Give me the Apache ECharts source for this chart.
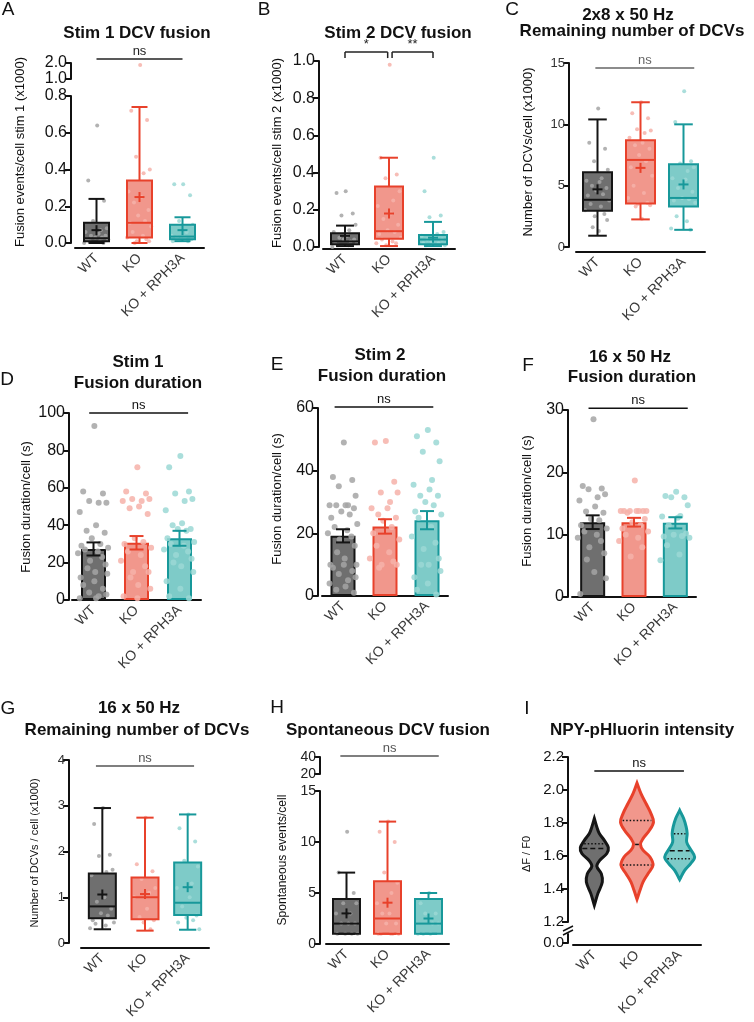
<!DOCTYPE html>
<html>
<head>
<meta charset="utf-8">
<title>DCV fusion panels</title>
<script src="https://cdn.jsdelivr.net/npm/echarts@6.0.0/dist/echarts.min.js"></script>
<style>
  html, body { margin: 0; padding: 0; background: #fff; }
  #chart { width: 754px; height: 1022px; }
</style>
</head>
<body>
<div id="chart"></div>
<script>
const groups = ["WT", "KO", "KO + RPH3A"];

// A - Stim 1 DCV fusion (x1000); box = [min, q1, median, q3, max]
const stim1Box = [
  [0.0, 0.01, 0.026, 0.11, 0.24],
  [0.0, 0.03, 0.11, 0.34, 0.74],
  [0.01, 0.02, 0.035, 0.10, 0.14]
];
const stim1Mean = [0.07, 0.25, 0.07];
const stim1Pts = [
  [0.64, 0.34, 0.23, 0.12, 0.08, 0.07, 0.06, 0.05, 0.04, 0.04, 0.03, 0.03, 0.02, 0.02, 0.01, 0.01, 0.0, 0.0],
  [1.88, 0.72, 0.67, 0.47, 0.40, 0.38, 0.28, 0.25, 0.22, 0.18, 0.15, 0.12, 0.11, 0.09, 0.06, 0.04, 0.03, 0.02, 0.01, 0.01, 0.0],
  [0.32, 0.32, 0.26, 0.12, 0.10, 0.06, 0.04, 0.03, 0.03, 0.02, 0.02, 0.01, 0.01]
];

// B - Stim 2 DCV fusion (x1000)
const stim2Box = [
  [0.005, 0.015, 0.03, 0.074, 0.115],
  [0.005, 0.045, 0.085, 0.325, 0.48],
  [0.005, 0.015, 0.04, 0.065, 0.135]
];
const stim2Mean = [0.06, 0.18, 0.05];
const stim2Pts = [
  [0.30, 0.29, 0.18, 0.17, 0.12, 0.09, 0.08, 0.06, 0.05, 0.04, 0.04, 0.03, 0.02, 0.02, 0.01, 0.01, 0.0],
  [0.98, 0.48, 0.39, 0.37, 0.30, 0.25, 0.22, 0.18, 0.15, 0.12, 0.09, 0.08, 0.07, 0.05, 0.04, 0.03, 0.02, 0.02, 0.01],
  [0.48, 0.30, 0.17, 0.16, 0.08, 0.07, 0.06, 0.05, 0.04, 0.04, 0.03, 0.02, 0.02, 0.01, 0.01]
];

// C - 2x8 x 50 Hz remaining DCVs (x1000)
const remain2x8Box = [
  [0.92, 2.96, 3.85, 6.1, 10.4],
  [2.25, 3.55, 7.1, 8.7, 11.8],
  [1.4, 3.3, 4.0, 6.75, 10.0]
];
const remain2x8Mean = [4.7, 6.45, 5.1];
const remain2x8Pts = [
  [11.3, 8.5, 8.0, 7.0, 6.3, 5.6, 5.4, 5.3, 5.0, 4.8, 4.6, 4.3, 4.2, 3.8, 3.5, 3.3, 3.0, 2.7, 2.5, 2.2, 1.6, 1.3],
  [11.8, 10.9, 10.5, 9.6, 9.5, 9.3, 8.9, 8.5, 8.3, 8.0, 7.5, 7.0, 6.5, 5.8, 5.0, 4.4, 4.0, 3.6, 3.5, 3.4, 3.3, 2.3],
  [12.7, 10.2, 7.0, 6.8, 6.5, 6.2, 5.6, 5.5, 4.8, 4.5, 4.0, 3.9, 3.8, 3.6, 2.5, 2.1, 1.5, 1.4]
];

// D - Stim 1 fusion duration (s)
const dur1Mean = [27.3, 30.6, 33.0];
const dur1Sem = [3.5, 3.6, 4.0];
const dur1Pts = [
  [93, 58, 57, 53, 52, 52, 47, 40, 37, 36, 33, 30, 29, 28, 27, 26, 25, 23, 21, 19, 17, 15, 14, 12, 10, 8, 6, 4, 3, 2, 1, 1],
  [71, 58, 57, 54, 54, 53, 53, 50, 49, 46, 33, 31, 30, 28, 26, 24, 21, 18, 15, 15, 12, 8, 6, 2, 1],
  [77, 71, 58, 57, 54, 53, 48, 41, 40, 38, 38, 37, 33, 31, 30, 29, 27, 26, 24, 22, 20, 18, 15, 10, 6, 2, 1]
];

// E - Stim 2 fusion duration (s)
const dur2Mean = [19.2, 22.2, 24.2];
const dur2Sem = [2.1, 2.3, 2.9];
const dur2Pts = [
  [49, 38, 37, 35, 32, 29, 29, 29, 29, 28, 27, 26, 25, 23, 22, 21, 20, 19, 18, 16, 14, 12, 10, 10, 10, 9, 8, 7, 6, 5, 4, 3, 2, 1],
  [49.5, 49, 36.5, 33, 33, 30, 28, 28, 26, 25, 24, 22, 20, 18, 16, 14, 12, 11, 10, 10, 9],
  [53, 51, 49, 46, 43, 37, 35.5, 34, 32, 32, 30, 29, 27, 26, 25, 22, 19, 17, 15, 12, 10, 10, 8, 6, 4, 2, 0.5]
];

// F - 16 x 50 Hz fusion duration (s)
const dur16Mean = [12.0, 12.0, 11.9];
const dur16Sem = [1.1, 0.7, 0.9];
const dur16Pts = [
  [28.5, 17.8, 17.4, 17.3, 16.5, 16.0, 15.5, 14.5, 13.7, 13.5, 12.5, 12.3, 11.5, 11, 10.5, 10, 9.5, 9, 8, 7, 6, 4, 3, 0.5],
  [18.7, 13.8, 13.8, 13.8, 13.8, 13.8, 13.8, 13.8, 13.5, 12.5, 12, 11.5, 11, 10.5, 10, 9.5, 9, 8, 6.5],
  [16.9, 16.2, 16.0, 16.0, 14.7, 13.0, 12.9, 12.7, 11.5, 10.2, 10, 9.8, 9.7, 9.5, 8.3, 6.8, 5.9]
];

// G - 16 x 50 Hz remaining DCVs (x1000)
const remain16Box = [
  [0.3, 0.54, 0.8, 1.52, 2.95],
  [0.27, 0.52, 1.0, 1.43, 2.74],
  [0.29, 0.61, 0.88, 1.76, 2.81]
];
const remain16Mean = [1.06, 1.07, 1.22];
const remain16Pts = [
  [2.95, 2.6, 1.93, 1.9, 1.6, 1.55, 1.48, 1.0, 0.9, 0.75, 0.65, 0.6, 0.5, 0.45, 0.42, 0.38, 0.32],
  [2.74, 1.72, 1.57, 1.4, 1.2, 1.1, 1.0, 0.75, 0.57, 0.5, 0.45, 0.3],
  [2.81, 2.51, 2.22, 1.8, 1.67, 1.3, 1.2, 1.0, 0.8, 0.6, 0.55, 0.5, 0.45, 0.3]
];

// H - Spontaneous events per cell
const spontBox = [
  [1, 1, 2, 4.4, 7],
  [1, 1, 2.5, 6.15, 12],
  [1, 1, 2, 4.4, 5]
];
const spontMean = [3.0, 4.05, 2.5];
const spontPts = [
  [11, 7, 5, 4, 4, 3, 3, 2, 2, 2, 1, 1, 1, 1],
  [12, 11, 10, 7, 6, 5, 4, 3, 3, 2, 2, 1, 1, 1, 1, 1],
  [5, 4, 3, 3, 2, 2, 1, 1, 1]
];

// I - NPY-pHluorin dF/F0 violins: [value, relative density]
const violinWT = [[1.301, 0], [1.372, 3.5], [1.442, 8], [1.493, 7], [1.538, 2.5], [1.574, 5.5], [1.615, 12.5], [1.651, 14], [1.695, 10], [1.736, 5], [1.776, 2.5], [1.827, 0]];
const violinKO = [[1.338, 0], [1.392, 3], [1.442, 6], [1.493, 11], [1.544, 16], [1.594, 13], [1.635, 6], [1.671, 3.5], [1.705, 6], [1.756, 12.5], [1.806, 16.5], [1.857, 14], [1.918, 9], [1.978, 4], [2.042, 0]];
const violinRescue = [[1.457, 0], [1.513, 5], [1.554, 11], [1.594, 15], [1.639, 11], [1.685, 7], [1.736, 7.5], [1.776, 6.5], [1.827, 4], [1.877, 0]];
// [q1, median, q3]; WT q1 is hidden in the dark fill of the reference
const violinQuartiles = [[null, 1.645, 1.675], [1.545, 1.67, 1.815], [1.584, 1.632, 1.735]];

const FONT = "'Liberation Sans', Arial, Helvetica, sans-serif";
const stroke = ["#151515", "#e8412b", "#17989a"];
const fill = ["#6f6f6f", "#f1978c", "#7ecbc8"];
const dot = ["#a5a5a5", "#f6b1a9", "#9bd8d5"];
// horizontal scatter of the dots, in category widths
const jitter = [0.02, -0.24, 0.22, -0.1, 0.3, 0.12, -0.32, 0.06, -0.16, 0.26, -0.04, 0.16, -0.28, 0.34, -0.2, 0.1, -0.36, 0.2, -0.08, 0.28, -0.14, 0.04, 0.32, -0.3];

const option = {
  animation: false,
  backgroundColor: "#fff",
  textStyle: { fontFamily: FONT },
  grid: [],
  xAxis: [],
  yAxis: [],
  series: [],
  graphic: []
};

// one grid = category x axis (ticks/labels) + hidden value x axis (for marks) + y axis
function addGrid(c) {
  const g = option.grid.length;
  option.grid.push({ left: c.left, top: c.top, width: c.width, height: c.height });
  option.xAxis.push({
    type: "category", gridIndex: g, data: groups, show: !!c.showX, offset: c.xOffset || 0,
    axisLine: { onZero: false, lineStyle: { color: "#111", width: 2 } },
    axisTick: { alignWithLabel: true, length: 5, lineStyle: { color: "#111", width: 2 } },
    axisLabel: { rotate: 45, margin: 8, fontSize: 14, color: "#3a3a3a", fontFamily: FONT, interval: 0 },
    splitLine: { show: false }
  });
  option.xAxis.push({ type: "value", gridIndex: g, min: -0.5, max: 2.5, show: false, axisLine: { onZero: false } });
  option.yAxis.push({
    type: "value", gridIndex: g, min: c.min, max: c.max, interval: c.interval, offset: c.yOffset || 0,
    axisLine: { show: true, onZero: false, lineStyle: { color: "#111", width: 2 } },
    axisTick: { show: true, length: 6, lineStyle: { color: "#111", width: 2 } },
    splitLine: { show: false },
    axisLabel: {
      margin: 4, fontSize: c.fontSize || 16, color: c.labelColor || "#111", fontFamily: FONT,
      formatter: c.formatter || ((v) => v.toFixed(c.digits || 0))
    }
  });
  return { cat: 2 * g, val: 2 * g + 1, y: g };
}

function addDots(ax, pts, spread, size, keep) {
  pts.forEach((vals, i) => {
    option.series.push({
      type: "scatter", xAxisIndex: ax.val, yAxisIndex: ax.y, z: 3, silent: true,
      symbolSize: size, itemStyle: { color: dot[i], opacity: 0.85 },
      data: vals.map((v, j) => [i + jitter[j % jitter.length] * spread, v]).filter((p) => !keep || keep(p[1]))
    });
  });
}

function addBoxes(ax, boxes, means, bw) {
  const data = boxes.map((b, i) => [i, b[0], b[1], b[2], b[3], b[4], means[i]]);
  // fill below the dots
  option.series.push({
    type: "custom", xAxisIndex: ax.val, yAxisIndex: ax.y, z: 2, silent: true, clip: false, data: data,
    renderItem(params, api) {
      const x = api.value(0);
      const q1 = api.coord([x, api.value(2)]), q3 = api.coord([x, api.value(4)]);
      return { type: "rect", shape: { x: q1[0] - bw / 2, y: q3[1], width: bw, height: q1[1] - q3[1] },
        style: { fill: fill[params.dataIndex] } };
    }
  });
  // lines and mean cross above the dots
  option.series.push({
    type: "custom", xAxisIndex: ax.val, yAxisIndex: ax.y, z: 4, silent: true, clip: false, data: data,
    renderItem(params, api) {
      const i = params.dataIndex;
      const x = api.value(0);
      const p = (k) => api.coord([x, api.value(k)]);
      const lo = p(1), q1 = p(2), md = p(3), q3 = p(4), hi = p(5), mn = p(6);
      const cx = lo[0], h = bw / 2, cap = bw * 0.32;
      const st = { stroke: stroke[i], lineWidth: 2, fill: null };
      const ln = (x1, y1, x2, y2) => ({ type: "line", shape: { x1, y1, x2, y2 }, style: st });
      return { type: "group", children: [
        { type: "rect", shape: { x: cx - h, y: q3[1], width: bw, height: q1[1] - q3[1] }, style: st },
        ln(cx - h, md[1], cx + h, md[1]),
        ln(cx, q3[1], cx, hi[1]),
        ln(cx, q1[1], cx, lo[1]),
        ln(cx - cap, hi[1], cx + cap, hi[1]),
        ln(cx - cap, lo[1], cx + cap, lo[1]),
        ln(cx - 5, mn[1], cx + 5, mn[1]),
        ln(cx, mn[1] - 5, cx, mn[1] + 5)
      ] };
    }
  });
}

function addBars(ax, means, sems) {
  option.series.push({
    type: "bar", xAxisIndex: ax.cat, yAxisIndex: ax.y, barWidth: 25, z: 2, silent: true,
    data: means.map((v, i) => ({ value: v, itemStyle: { color: fill[i], borderColor: stroke[i], borderWidth: 2 } }))
  });
  option.series.push({
    type: "custom", xAxisIndex: ax.val, yAxisIndex: ax.y, z: 4, silent: true, clip: false,
    data: means.map((m, i) => [i, m - sems[i], m + sems[i]]),
    renderItem(params, api) {
      const lo = api.coord([api.value(0), api.value(1)]), hi = api.coord([api.value(0), api.value(2)]);
      const st = { stroke: stroke[params.dataIndex], lineWidth: 2 };
      const c = lo[0];
      return { type: "group", children: [
        { type: "line", shape: { x1: c, y1: lo[1], x2: c, y2: hi[1] }, style: st },
        { type: "line", shape: { x1: c - 7, y1: lo[1], x2: c + 7, y2: lo[1] }, style: st },
        { type: "line", shape: { x1: c - 7, y1: hi[1], x2: c + 7, y2: hi[1] }, style: st }
      ] };
    }
  });
}

function addViolins(ax, profiles, quartiles, scale) {
  option.series.push({
    type: "custom", xAxisIndex: ax.val, yAxisIndex: ax.y, z: 3, silent: true, clip: false,
    data: profiles.map((p, i) => [i]),
    renderItem(params, api) {
      const i = params.dataIndex;
      const x = api.value(0);
      const prof = profiles[i];
      const right = prof.map((d) => api.coord([x + d[1] * scale, d[0]]));
      const left = prof.slice().reverse().map((d) => api.coord([x - d[1] * scale, d[0]]));
      const half = (v) => {
        for (let k = 1; k < prof.length; k++) {
          if (v <= prof[k][0]) {
            const t = (v - prof[k - 1][0]) / (prof[k][0] - prof[k - 1][0]);
            return prof[k - 1][1] + t * (prof[k][1] - prof[k - 1][1]);
          }
        }
        return 0;
      };
      const kids = [{ type: "polygon", shape: { points: right.concat(left), smooth: 0.35 },
        style: { fill: fill[i], stroke: stroke[i], lineWidth: 3 } }];
      quartiles[i].forEach((q, k) => {
        if (q == null) return;
        const hw = Math.max(half(q) * scale - 0.04, 0);
        const a = api.coord([x - hw, q]), b = api.coord([x + hw, q]);
        kids.push({ type: "line", shape: { x1: a[0], y1: a[1], x2: b[0], y2: b[1] },
          style: { stroke: "#111", lineWidth: 1.5, lineDash: k === 1 ? [5, 3] : [1.5, 2] } });
      });
      return { type: "group", children: kids };
    }
  });
}

// significance annotations: from/to in category positions, at in axis units
function addSig(ax, marks, color) {
  option.series.push({
    type: "custom", xAxisIndex: ax.val, yAxisIndex: ax.y, z: 5, silent: true, clip: false,
    data: marks.map((m) => [m.from, m.to, m.at]),
    renderItem(params, api) {
      const m = marks[params.dataIndex];
      const a = api.coord([api.value(0), api.value(2)]), b = api.coord([api.value(1), api.value(2)]);
      const st = { stroke: color, lineWidth: 1.5 };
      const kids = [{ type: "line", shape: { x1: a[0], y1: a[1], x2: b[0], y2: b[1] }, style: st }];
      if (m.tick) {
        kids.push({ type: "line", shape: { x1: a[0], y1: a[1], x2: a[0], y2: a[1] + m.tick }, style: st });
        kids.push({ type: "line", shape: { x1: b[0], y1: b[1], x2: b[0], y2: b[1] + m.tick }, style: st });
      }
      kids.push({ type: "text", x: (a[0] + b[0]) / 2, y: a[1] - 1,
        style: { text: m.text, font: "13px " + FONT, fill: color, align: "center", verticalAlign: "bottom", textAlign: "center", textVerticalAlign: "bottom" } });
      return { type: "group", children: kids };
    }
  });
}

function text(x, y, str, font, opts) {
  option.graphic.push(Object.assign({
    type: "text", x: x, y: y, silent: true,
    style: { text: str, font: font, fill: "#111", align: "center", verticalAlign: "middle", textAlign: "center", textVerticalAlign: "middle" }
  }, opts || {}));
}
function yName(x, y, str, size) {
  text(x, y, str, size + "px " + FONT, { rotation: Math.PI / 2 });
}
const TITLE = "bold 17px " + FONT;
const LETTER = "19px " + FONT;

// ---------- A ----------
const aLow = addGrid({ left: 75, top: 96, width: 129, height: 147, min: 0, max: 0.8, interval: 0.2, digits: 1, yOffset: 4, xOffset: 5, showX: true });
const aUp = addGrid({ left: 75, top: 63, width: 129, height: 16, min: 1, max: 2, interval: 1, digits: 1, yOffset: 4 });
addBoxes(aLow, stim1Box, stim1Mean, 25);
addDots(aLow, stim1Pts, 0.8, 4, (v) => v <= 0.8);
addDots(aUp, stim1Pts, 0.8, 4, (v) => v > 0.8);
addSig(aUp, [{ from: 0, to: 2, at: 2.25, text: "ns" }], "#222");
text(8, 10, "A", LETTER);
text(137, 33, "Stim 1 DCV fusion", TITLE);
yName(20, 152, "Fusion events/cell stim 1 (x1000)", 13);

// ---------- B ----------
const b = addGrid({ left: 323, top: 61, width: 132, height: 186, min: 0, max: 1, interval: 0.2, digits: 1, yOffset: 4, xOffset: 2, showX: true });
addBoxes(b, stim2Box, stim2Mean, 28);
addDots(b, stim2Pts, 0.8, 4);
addSig(b, [{ from: 0, to: 0.97, at: 1.048, text: "*", tick: 6 }, { from: 1.07, to: 2, at: 1.048, text: "**", tick: 6 }], "#222");
text(264, 10, "B", LETTER);
text(398, 33, "Stim 2 DCV fusion", TITLE);
yName(277, 153, "Fusion events/cell stim 2 (x1000)", 13);

// ---------- C ----------
const c = addGrid({ left: 576, top: 63, width: 129, height: 184, min: 0, max: 15, interval: 5, yOffset: 7, xOffset: 5, showX: true, fontSize: 13, labelColor: "#333" });
addBoxes(c, remain2x8Box, remain2x8Mean, 29);
addDots(c, remain2x8Pts, 0.8, 4);
addSig(c, [{ from: -0.05, to: 2.25, at: 14.6, text: "ns" }], "#666");
text(512, 10, "C", LETTER);
text(628, 15, "2x8 x 50 Hz", TITLE);
text(632, 31, "Remaining number of DCVs", TITLE);
yName(528, 152, "Number of DCVs/cell (x1000)", 13);

// ---------- D ----------
const d = addGrid({ left: 72, top: 413, width: 129, height: 187, min: 0, max: 100, interval: 20, yOffset: 3, showX: true });
addBars(d, dur1Mean, dur1Sem);
addDots(d, dur1Pts, 1.0, 6);
addSig(d, [{ from: -0.1, to: 2.2, at: 100, text: "ns" }], "#111");
text(7, 380, "D", LETTER);
text(138, 362, "Stim 1", TITLE);
text(138, 383, "Fusion duration", TITLE);
yName(26, 507, "Fusion duration/cell (s)", 13);

// ---------- E ----------
const e = addGrid({ left: 322, top: 408, width: 126, height: 188, min: 0, max: 60, interval: 20, yOffset: 4, showX: true });
addBars(e, dur2Mean, dur2Sem);
addDots(e, dur2Pts, 1.0, 6);
addSig(e, [{ from: -0.2, to: 2.15, at: 60.3, text: "ns" }], "#111");
text(277, 365, "E", LETTER);
text(380, 355, "Stim 2", TITLE);
text(382, 376, "Fusion duration", TITLE);
yName(277, 499, "Fusion duration/cell (s)", 13);

// ---------- F ----------
const f = addGrid({ left: 572, top: 410, width: 124, height: 187, min: 0, max: 30, interval: 10, yOffset: 4, showX: true });
addBars(f, dur16Mean, dur16Sem);
addDots(f, dur16Pts, 1.0, 6);
addSig(f, [{ from: -0.1, to: 2.3, at: 30.3, text: "ns" }], "#111");
text(528, 366, "F", LETTER);
text(630, 357, "16 x 50 Hz", TITLE);
text(632, 377, "Fusion duration", TITLE);
yName(527, 501, "Fusion duration/cell (s)", 13);

// ---------- G ----------
const g = addGrid({ left: 81, top: 760, width: 128, height: 183, min: 0, max: 4, interval: 1, yOffset: 12, xOffset: 5, showX: true, fontSize: 13, labelColor: "#333" });
addBoxes(g, remain16Box, remain16Mean, 27);
addDots(g, remain16Pts, 0.8, 4);
addSig(g, [{ from: -0.15, to: 2.15, at: 3.87, text: "ns" }], "#555");
text(8, 709, "G", LETTER);
text(139, 708, "16 x 50 Hz", TITLE);
text(137, 730, "Remaining number of DCVs", TITLE);
yName(35, 853, "Number of DCVs / cell (x1000)", 11);

// ---------- H ----------
const hLow = addGrid({ left: 326, top: 791, width: 123, height: 153, min: 0, max: 15, interval: 5, yOffset: 6, showX: true, fontSize: 14, labelColor: "#222" });
const hUp = addGrid({ left: 326, top: 757, width: 123, height: 17, min: 20, max: 40, interval: 20, yOffset: 6, fontSize: 14, labelColor: "#222" });
addBoxes(hLow, spontBox, spontMean, 27);
addDots(hLow, spontPts, 0.8, 4, (v) => v <= 15);
addSig(hUp, [{ from: -0.15, to: 2.25, at: 41.2, text: "ns" }], "#555");
text(277, 708, "H", LETTER);
text(388, 730, "Spontaneous DCV fusion", TITLE);
yName(283, 860, "Spontaneous events/cell", 12);

// ---------- I ----------
const iMain = addGrid({ left: 573, top: 757, width: 128, height: 165, min: 1.2, max: 2.2, interval: 0.2, digits: 1, yOffset: 5, fontSize: 15 });
const iLow = addGrid({
  left: 573, top: 934, width: 128, height: 9, min: 0, max: 1, interval: 1, yOffset: 5, xOffset: 2, showX: true, fontSize: 15,
  formatter: (v) => (v === 0 ? "0.0" : "")
});
option.yAxis[iLow.y].axisTick.customValues = [0];
addViolins(iMain, [violinWT, violinKO, violinRescue], violinQuartiles, 1 / 42.7);
addSig(iMain, [{ from: 0, to: 2.1, at: 2.115, text: "ns" }], "#111");
text(527, 709, "I", LETTER);
text(642, 730, "NPY-pHluorin intensity", TITLE);
yName(527, 854, "\u0394F / F0", 11);
// axis break marks
option.graphic.push({ type: "line", silent: true, shape: { x1: 563, y1: 931, x2: 573, y2: 926 }, style: { stroke: "#111", lineWidth: 1.5 } });
option.graphic.push({ type: "line", silent: true, shape: { x1: 563, y1: 935, x2: 573, y2: 930 }, style: { stroke: "#111", lineWidth: 1.5 } });

const chart = echarts.init(document.getElementById("chart"), null, { renderer: "canvas", width: 754, height: 1022 });
chart.setOption(option);
</script>
</body>
</html>
